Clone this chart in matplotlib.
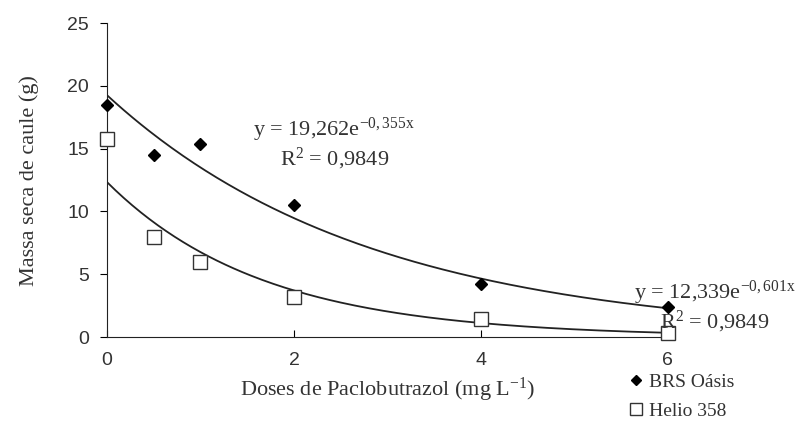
import numpy as np
import matplotlib.pyplot as plt

# doses (mg L-1)
doses = np.array([0, 0.5, 1, 2, 4, 6])
brs_oasis = np.array([18.5, 14.5, 15.4, 10.5, 4.2, 2.4])
helio_358 = np.array([15.8, 8.0, 6.0, 3.2, 1.4, 0.3])

# exponential trendlines y = a*exp(b*x)
brs_a, brs_b = 19.262, -0.355
helio_a, helio_b = 12.339, -0.601

serif = 'Liberation Serif'
sans = 'Liberation Sans'

plt.rcParams['font.family'] = [serif, 'DejaVu Serif']
plt.rcParams['mathtext.fontset'] = 'custom'
plt.rcParams['mathtext.rm'] = serif
plt.rcParams['mathtext.it'] = serif
plt.rcParams['mathtext.bf'] = serif

fig = plt.figure(figsize=(7.95, 4.21), dpi=100)
ax = fig.add_axes([0.1346, 0.1995, 0.7054, 0.7455])

xx = np.linspace(0, 6, 200)
ax.plot(xx, brs_a * np.exp(brs_b * xx), color='#222222', lw=1.3)
ax.plot(xx, helio_a * np.exp(helio_b * xx), color='#222222', lw=1.3)

ax.plot(doses, brs_oasis, 'D', color='black', ms=6, label='BRS Oásis', clip_on=False, zorder=3)
ax.plot(doses, helio_358, 's', mfc='white', mec='#333333', mew=1.0, ms=10,
        label='Helio 358', clip_on=False, zorder=3)

ax.set_xlim(0, 6)
ax.set_ylim(0, 25)
ax.set_xticks([0, 2, 4, 6])
ax.set_yticks([0, 5, 10, 15, 20, 25])
ax.tick_params(axis='x', direction='in', length=5, pad=11,
               labelsize=14, labelcolor='#333333')
ax.tick_params(axis='y', direction='out', length=5, pad=8,
               labelsize=14, labelcolor='#333333')
for lab in ax.get_xticklabels() + ax.get_yticklabels():
    lab.set_fontfamily(sans)

ax.spines['top'].set_visible(False)
ax.spines['right'].set_visible(False)
ax.spines['left'].set_color('#222222')
ax.spines['bottom'].set_color('#222222')

ax.set_xlabel('Doses de Paclobutrazol (mg L$^{-1}$)', fontfamily=serif, fontsize=16,
              color='#333333', labelpad=5)
ax.set_ylabel('Massa seca de caule (g)', fontfamily=serif, fontsize=16,
              color='#333333', labelpad=20)

ax.text(2.43, 15.4, 'y = 19,262e$^{-0,355x}$\nR$^{2}$ = 0,9849', fontfamily=serif,
        fontsize=16, color='#333333', ha='center', va='center', linespacing=1.1)
ax.text(6.5, 2.4, 'y = 12,339e$^{-0,601x}$\nR$^{2}$ = 0,9849', fontfamily=serif,
        fontsize=16, color='#333333', ha='center', va='center', linespacing=1.1)

leg = ax.legend(loc='center left', bbox_to_anchor=(0.776, 0.058), bbox_transform=fig.transFigure,
                frameon=False, prop={'family': serif, 'size': 14}, handlelength=0.6,
                handletextpad=0.35, labelspacing=0.6, labelcolor='#333333', borderpad=0.2,
                markerscale=0.85)

fig.savefig('out.png', dpi=100)
